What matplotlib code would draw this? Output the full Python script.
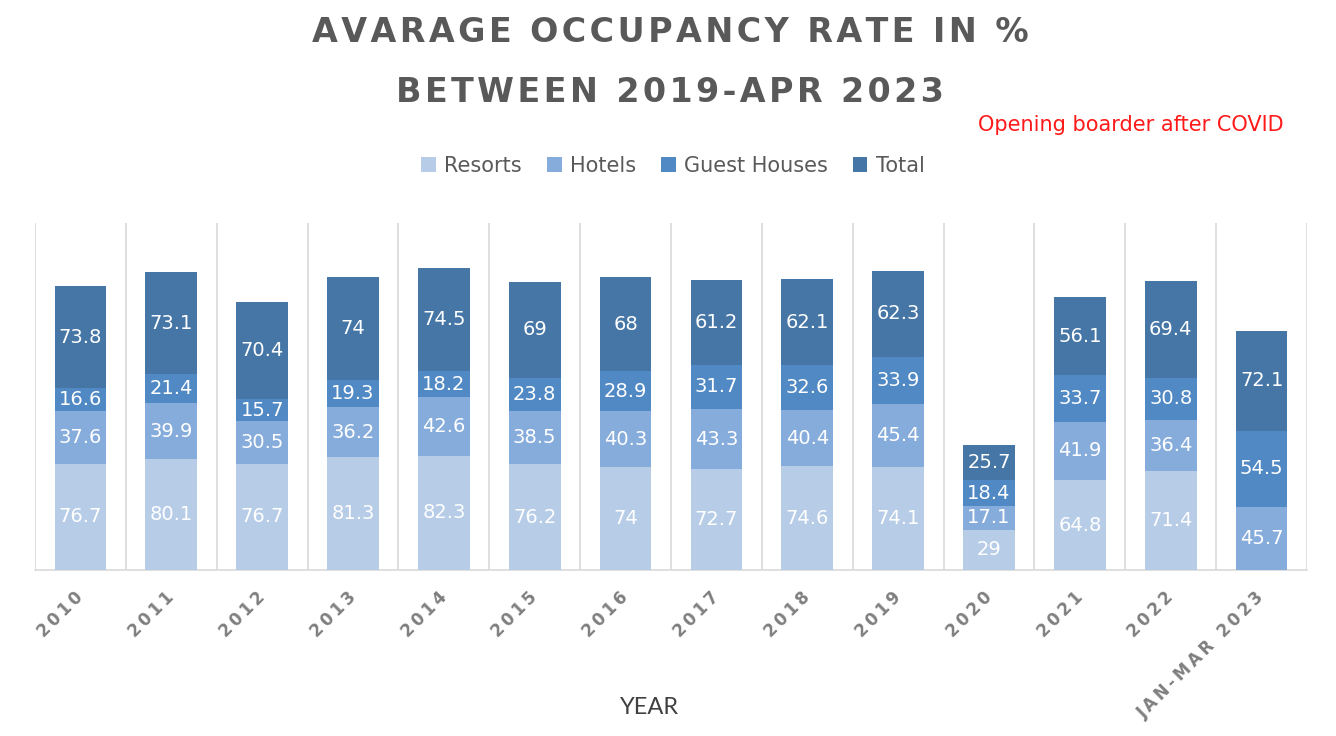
import matplotlib
matplotlib.use('Agg')
import matplotlib.pyplot as plt
import numpy as np

years = ['2010', '2011', '2012', '2013', '2014', '2015', '2016', '2017',
         '2018', '2019', '2020', '2021', '2022', 'JAN-MAR 2023']
resorts = [76.7, 80.1, 76.7, 81.3, 82.3, 76.2, 74, 72.7, 74.6, 74.1, 29, 64.8, 71.4, 0]
hotels = [37.6, 39.9, 30.5, 36.2, 42.6, 38.5, 40.3, 43.3, 40.4, 45.4, 17.1, 41.9, 36.4, 45.7]
guest_houses = [16.6, 21.4, 15.7, 19.3, 18.2, 23.8, 28.9, 31.7, 32.6, 33.9, 18.4, 33.7, 30.8, 54.5]
total = [73.8, 73.1, 70.4, 74, 74.5, 69, 68, 61.2, 62.1, 62.3, 25.7, 56.1, 69.4, 72.1]

series = [('Resorts', resorts, '#b7cce7'),
          ('Hotels', hotels, '#86acdc'),
          ('Guest Houses', guest_houses, '#5089c4'),
          ('Total', total, '#4576a6')]


def spaced(s, sep='\u2009'):
    return sep.join(s)


fig = plt.figure(figsize=(13.36, 7.36), dpi=100)
ax = fig.add_axes([35 / 1336, 1 - 570 / 736, (1307 - 35) / 1336, (570 - 223) / 736])

x = np.arange(len(years))
bottom = np.zeros(len(years))
for name, vals, col in series:
    vals = np.array(vals, dtype=float)
    ax.bar(x, vals, 0.57, bottom=bottom, color=col, label=name, zorder=3)
    for xi, b, v in zip(x, bottom, vals):
        if v > 0:
            lab = ('%g' % v)
            ax.text(xi, b + v / 2, lab, ha='center', va='center', color='white',
                    fontsize=14, zorder=4)
    bottom += vals

ax.set_xlim(-0.5, len(years) - 0.5)
ax.set_ylim(0, 250)
ax.set_yticks([])
ax.set_xticks(x)
ax.set_xticklabels([spaced(y) for y in years], rotation=45, ha='right', va='center',
                   rotation_mode='anchor', fontsize=12, fontweight='bold', color='#7f7f7f')
ax.tick_params(axis='x', length=0, pad=18)
ax.set_xticks(np.arange(-0.5, len(years)), minor=True)
ax.tick_params(axis='x', which='minor', length=0)
ax.grid(True, which='minor', axis='x', color='#d9d9d9', linewidth=1.2, zorder=0)
for s in ['left', 'right', 'top']:
    ax.spines[s].set_visible(False)
ax.spines['bottom'].set_color('#d9d9d9')
ax.spines['bottom'].set_linewidth(1.2)

fig.text(670 / 1336, 1 - 32 / 736, spaced('AVARAGE OCCUPANCY RATE IN %', '\u200a'),
         ha='center', va='center', fontsize=24, fontweight='bold', color='#595959')
fig.text(670 / 1336, 1 - 92 / 736, spaced('BETWEEN 2019-APR 2023', '\u200a'),
         ha='center', va='center', fontsize=24, fontweight='bold', color='#595959')

fig.text(978 / 1336, 1 - 125 / 736, 'Opening boarder after COVID', ha='left', va='center',
         fontsize=15, color='#ff1a1a')

fig.legend(loc='center', bbox_to_anchor=(673 / 1336, 1 - 166 / 736), ncol=4, frameon=False,
           handlelength=0.7, handleheight=0.7, handletextpad=0.4, columnspacing=1.2,
           prop={'size': 15}, labelcolor='#595959')

fig.text(650 / 1336, 1 - 708 / 736, 'YEAR', ha='center', va='center', fontsize=17,
         color='#404040', family='Lato')

fig.savefig('out.png', dpi=100)
